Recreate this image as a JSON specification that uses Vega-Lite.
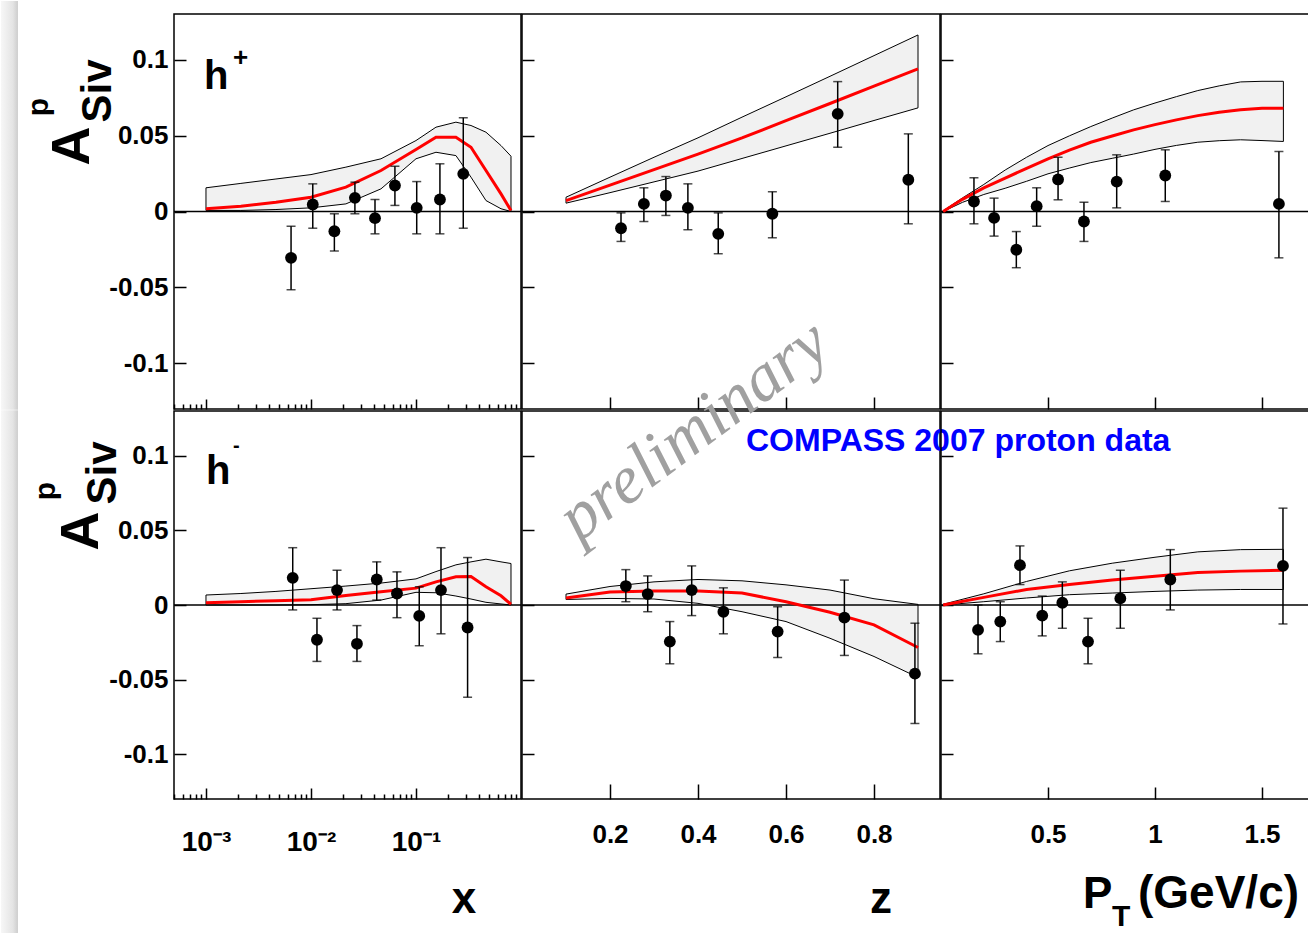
{
"$schema": "https://vega.github.io/schema/vega-lite/v6.json",
"padding": 0,
"autosize": {"type": "pad"},
"background": "white",
"columns": 3,
"spacing": {"row": 2, "column": 1},
"bounds": "flush",
"config": {
  "view": {"stroke": "black", "strokeWidth": 1.5},
  "axis": {"domain": false, "grid": false, "tickColor": "black", "tickWidth": 1.5, "labelColor": "black", "labelFont": "Liberation Sans", "labelFontWeight": "bold", "labelFontSize": 26, "labelFlush": false, "labelOverlap": false, "title": null},
  "text": {"font": "Liberation Sans", "fontWeight": "bold", "color": "black"}
},
"datasets": {
  "band_hp_x": [
    {"x":0.001,"lo":0.0007,"mid":0.0018,"hi":0.0156},
    {"x":0.00215,"lo":0.0007,"mid":0.0035,"hi":0.0185},
    {"x":0.00464,"lo":0.0013,"mid":0.0061,"hi":0.0214},
    {"x":0.01,"lo":0.0024,"mid":0.0094,"hi":0.0243},
    {"x":0.0215,"lo":0.005,"mid":0.016,"hi":0.0292},
    {"x":0.0464,"lo":0.0149,"mid":0.027,"hi":0.0347},
    {"x":0.1,"lo":0.0347,"mid":0.0408,"hi":0.0467},
    {"x":0.155,"lo":0.039,"mid":0.0489,"hi":0.0555},
    {"x":0.24,"lo":0.0368,"mid":0.0489,"hi":0.0588},
    {"x":0.334,"lo":0.0226,"mid":0.0423,"hi":0.0566},
    {"x":0.464,"lo":0.0072,"mid":0.027,"hi":0.0522},
    {"x":0.645,"lo":0.0018,"mid":0.0116,"hi":0.0434},
    {"x":0.803,"lo":0,"mid":0.0007,"hi":0.0364}
  ],
  "pts_hp_x": [
    {"x":0.00646,"y":-0.0305,"lo":-0.0515,"hi":-0.0097},
    {"x":0.0104,"y":0.0046,"lo":-0.011,"hi":0.0182},
    {"x":0.0167,"y":-0.013,"lo":-0.026,"hi":-0.0015},
    {"x":0.0262,"y":0.009,"lo":-0.0015,"hi":0.0193},
    {"x":0.0407,"y":-0.0044,"lo":-0.0147,"hi":0.0079},
    {"x":0.063,"y":0.0171,"lo":0.004,"hi":0.0298},
    {"x":0.1016,"y":0.0024,"lo":-0.0147,"hi":0.0197},
    {"x":0.169,"y":0.0079,"lo":-0.0147,"hi":0.0314},
    {"x":0.282,"y":0.0248,"lo":-0.011,"hi":0.0617}
  ],
  "band_hp_z": [
    {"x":0.1,"lo":0.0055,"mid":0.0072,"hi":0.0094},
    {"x":0.2,"lo":0.0124,"mid":0.0174,"hi":0.0226},
    {"x":0.3,"lo":0.0195,"mid":0.0276,"hi":0.0357},
    {"x":0.4,"lo":0.0266,"mid":0.0378,"hi":0.0485},
    {"x":0.5,"lo":0.0349,"mid":0.0484,"hi":0.0621},
    {"x":0.6,"lo":0.0432,"mid":0.0598,"hi":0.0755},
    {"x":0.7,"lo":0.0515,"mid":0.0711,"hi":0.089},
    {"x":0.8,"lo":0.0599,"mid":0.0825,"hi":0.1026},
    {"x":0.9,"lo":0.0682,"mid":0.0939,"hi":0.1162}
  ],
  "pts_hp_z": [
    {"x":0.225,"y":-0.011,"lo":-0.0197,"hi":-0.0009},
    {"x":0.277,"y":0.005,"lo":-0.0066,"hi":0.0156},
    {"x":0.327,"y":0.0105,"lo":-0.0026,"hi":0.023},
    {"x":0.377,"y":0.0024,"lo":-0.012,"hi":0.0182},
    {"x":0.446,"y":-0.0147,"lo":-0.0278,"hi":-0.0009},
    {"x":0.569,"y":-0.0015,"lo":-0.0173,"hi":0.013},
    {"x":0.7175,"y":0.0643,"lo":0.0423,"hi":0.0855},
    {"x":0.878,"y":0.0209,"lo":-0.0081,"hi":0.0511}
  ],
  "band_hp_pt": [
    {"x":0.01,"lo":0,"mid":0,"hi":0.0005},
    {"x":0.1,"lo":0.006,"mid":0.008,"hi":0.0089},
    {"x":0.2,"lo":0.0112,"mid":0.0155,"hi":0.0178},
    {"x":0.3,"lo":0.0153,"mid":0.022,"hi":0.0273},
    {"x":0.4,"lo":0.0199,"mid":0.0284,"hi":0.0357},
    {"x":0.5,"lo":0.0248,"mid":0.0347,"hi":0.0434},
    {"x":0.6,"lo":0.0286,"mid":0.0404,"hi":0.0498},
    {"x":0.7,"lo":0.0322,"mid":0.0456,"hi":0.0559},
    {"x":0.8,"lo":0.035,"mid":0.0497,"hi":0.0615},
    {"x":0.9,"lo":0.0378,"mid":0.0537,"hi":0.0669},
    {"x":1.0,"lo":0.0409,"mid":0.0572,"hi":0.0714},
    {"x":1.1,"lo":0.0435,"mid":0.0603,"hi":0.0756},
    {"x":1.2,"lo":0.0456,"mid":0.0631,"hi":0.0796},
    {"x":1.3,"lo":0.0466,"mid":0.0653,"hi":0.0827},
    {"x":1.4,"lo":0.0472,"mid":0.067,"hi":0.0853},
    {"x":1.5,"lo":0.0467,"mid":0.068,"hi":0.0857},
    {"x":1.6,"lo":0.0461,"mid":0.068,"hi":0.0857}
  ],
  "pts_hp_pt": [
    {"x":0.154,"y":0.0066,"lo":-0.0081,"hi":0.0222},
    {"x":0.248,"y":-0.0042,"lo":-0.0162,"hi":0.0088},
    {"x":0.352,"y":-0.0252,"lo":-0.037,"hi":-0.0132},
    {"x":0.447,"y":0.0035,"lo":-0.0097,"hi":0.0156},
    {"x":0.547,"y":0.0211,"lo":0.0077,"hi":0.0357},
    {"x":0.668,"y":-0.0066,"lo":-0.0197,"hi":0.0061},
    {"x":0.821,"y":0.0197,"lo":0.0024,"hi":0.0373},
    {"x":1.048,"y":0.0237,"lo":0.0066,"hi":0.0406},
    {"x":1.579,"y":0.005,"lo":-0.0305,"hi":0.0395}
  ],
  "band_hm_x": [
    {"x":0.001,"lo":0,"mid":0.0015,"hi":0.0067},
    {"x":0.00215,"lo":0,"mid":0.0022,"hi":0.0077},
    {"x":0.00464,"lo":0,"mid":0.0029,"hi":0.0091},
    {"x":0.01,"lo":0.0002,"mid":0.0035,"hi":0.0109},
    {"x":0.0215,"lo":0.0009,"mid":0.0064,"hi":0.0127},
    {"x":0.0464,"lo":0.0033,"mid":0.0089,"hi":0.0147},
    {"x":0.1,"lo":0.0085,"mid":0.0113,"hi":0.0175},
    {"x":0.155,"lo":0.0082,"mid":0.0155,"hi":0.0224},
    {"x":0.24,"lo":0.006,"mid":0.0189,"hi":0.0269},
    {"x":0.334,"lo":0.004,"mid":0.0191,"hi":0.0289},
    {"x":0.464,"lo":0.0018,"mid":0.0122,"hi":0.0307},
    {"x":0.645,"lo":0.0007,"mid":0.0062,"hi":0.0289},
    {"x":0.803,"lo":0,"mid":0.0005,"hi":0.0278}
  ],
  "pts_hm_x": [
    {"x":0.0067,"y":0.0182,"lo":-0.0033,"hi":0.0384},
    {"x":0.0114,"y":-0.0233,"lo":-0.0378,"hi":-0.0089},
    {"x":0.0177,"y":0.01,"lo":-0.0033,"hi":0.0233},
    {"x":0.0274,"y":-0.026,"lo":-0.0378,"hi":-0.0138},
    {"x":0.0423,"y":0.0171,"lo":0.0033,"hi":0.0289},
    {"x":0.0659,"y":0.0077,"lo":-0.0085,"hi":0.0222},
    {"x":0.1074,"y":-0.0073,"lo":-0.0273,"hi":0.0122},
    {"x":0.173,"y":0.01,"lo":-0.0193,"hi":0.0384},
    {"x":0.31,"y":-0.0151,"lo":-0.0618,"hi":0.0318}
  ],
  "band_hm_z": [
    {"x":0.1,"lo":0.0037,"mid":0.0047,"hi":0.0073},
    {"x":0.2,"lo":0.0044,"mid":0.0087,"hi":0.0124},
    {"x":0.3,"lo":0.004,"mid":0.0093,"hi":0.0155},
    {"x":0.4,"lo":0.0011,"mid":0.0093,"hi":0.0171},
    {"x":0.5,"lo":-0.0045,"mid":0.008,"hi":0.0162},
    {"x":0.6,"lo":-0.0111,"mid":0.0022,"hi":0.0135},
    {"x":0.7,"lo":-0.0223,"mid":-0.0049,"hi":0.01},
    {"x":0.8,"lo":-0.0345,"mid":-0.0133,"hi":0.0042},
    {"x":0.9,"lo":-0.0485,"mid":-0.0285,"hi":0.0004}
  ],
  "pts_hm_z": [
    {"x":0.236,"y":0.0127,"lo":0.0022,"hi":0.0237},
    {"x":0.2857,"y":0.0073,"lo":-0.0045,"hi":0.0195},
    {"x":0.336,"y":-0.0245,"lo":-0.0394,"hi":-0.0111},
    {"x":0.3857,"y":0.01,"lo":-0.0071,"hi":0.0262},
    {"x":0.4577,"y":-0.0045,"lo":-0.0193,"hi":0.0115},
    {"x":0.581,"y":-0.0178,"lo":-0.0351,"hi":-0.0011},
    {"x":0.7327,"y":-0.0085,"lo":-0.0338,"hi":0.0167},
    {"x":0.893,"y":-0.046,"lo":-0.0794,"hi":-0.0122}
  ],
  "band_hm_pt": [
    {"x":0.01,"lo":0,"mid":0,"hi":0.0005},
    {"x":0.2,"lo":0.0022,"mid":0.0051,"hi":0.0075},
    {"x":0.4,"lo":0.0047,"mid":0.0104,"hi":0.0158},
    {"x":0.6,"lo":0.0069,"mid":0.0137,"hi":0.0229},
    {"x":0.8,"lo":0.008,"mid":0.0167,"hi":0.028},
    {"x":1.0,"lo":0.0091,"mid":0.0193,"hi":0.032},
    {"x":1.2,"lo":0.01,"mid":0.0218,"hi":0.0356},
    {"x":1.4,"lo":0.0104,"mid":0.0227,"hi":0.0371},
    {"x":1.6,"lo":0.0104,"mid":0.0233,"hi":0.0373}
  ],
  "pts_hm_pt": [
    {"x":0.173,"y":-0.0167,"lo":-0.0327,"hi":0},
    {"x":0.277,"y":-0.0111,"lo":-0.0245,"hi":0.0022},
    {"x":0.369,"y":0.0267,"lo":0.0137,"hi":0.0396},
    {"x":0.473,"y":-0.0071,"lo":-0.0207,"hi":0.006},
    {"x":0.567,"y":0.0015,"lo":-0.0156,"hi":0.0155},
    {"x":0.687,"y":-0.0245,"lo":-0.0394,"hi":-0.0089},
    {"x":0.838,"y":0.0044,"lo":-0.0156,"hi":0.0233},
    {"x":1.0715,"y":0.0171,"lo":-0.0033,"hi":0.0371},
    {"x":1.598,"y":0.0262,"lo":-0.0127,"hi":0.0649}
  ]
},
"concat": [
  {"width": 347, "height": 395, "layer": [
    {"data": {"values": [{}]}, "mark": {"type": "rect", "fill": {"gradient": "linear", "x1": 0, "y1": 0, "x2": 1, "y2": 0, "stops": [{"offset": 0, "color": "#f7f7f7"}, {"offset": 0.7, "color": "#e4e4e4"}, {"offset": 1, "color": "#cdcdcd"}]}},
     "encoding": {"x": {"datum": 1.116e-5, "type": "quantitative", "scale": {"type": "log", "domain": [0.000496, 1], "nice": false}}, "x2": {"datum": 1.62e-5}, "y": {"datum": 0.13855, "type": "quantitative", "scale": {"domain": [-0.13, 0.13], "nice": false, "zero": false}}, "y2": {"datum": -0.1305}}},
    {"data": {"name": "band_hp_x"}, "mark": {"type": "area", "fill": "#f1f1f1", "stroke": "black", "strokeWidth": 1},
     "encoding": {
       "x": {"field": "x", "type": "quantitative", "title": null, "scale": {"type": "log", "domain": [0.000496, 1], "nice": false},
             "axis": {"values": [0.0005,0.0006,0.0007,0.0008,0.0009,0.001,0.002,0.003,0.004,0.005,0.006,0.007,0.008,0.009,0.01,0.02,0.03,0.04,0.05,0.06,0.07,0.08,0.09,0.1,0.2,0.3,0.4,0.5,0.6,0.7,0.8,0.9], "labels": false,
                      "tickSize": {"condition": {"test": "datum.value == 0.001 || datum.value == 0.01 || datum.value == 0.1", "value": -10}, "value": -5}}},
       "y": {"field": "lo", "type": "quantitative", "title": null, "scale": {"domain": [-0.13, 0.13], "nice": false, "zero": false},
             "axis": {"values": [-0.1, -0.05, 0, 0.05, 0.1], "tickSize": -12, "labelPadding": 18, "labelExpr": "'' + datum.value"}},
       "y2": {"field": "hi"}}},
    {"data": {"values": [{}]}, "mark": {"type": "rule", "color": "black", "strokeWidth": 1.5}, "encoding": {"y": {"datum": 0, "type": "quantitative", "scale": {"domain": [-0.13, 0.13], "nice": false, "zero": false}}}},
    {"data": {"name": "band_hp_x"}, "mark": {"type": "line", "color": "#ff0000", "strokeWidth": 3},
     "encoding": {"x": {"field": "x", "type": "quantitative", "title": null, "scale": {"type": "log", "domain": [0.000496, 1], "nice": false}}, "y": {"field": "mid", "type": "quantitative", "title": null, "scale": {"domain": [-0.13, 0.13], "nice": false, "zero": false}}}},
    {"data": {"name": "pts_hp_x"}, "mark": {"type": "errorbar", "ticks": true, "size": 9, "thickness": 1.5, "color": "black"},
     "encoding": {"x": {"field": "x", "type": "quantitative", "title": null, "scale": {"type": "log", "domain": [0.000496, 1], "nice": false}}, "y": {"field": "lo", "type": "quantitative", "title": null, "scale": {"domain": [-0.13, 0.13], "nice": false, "zero": false}}, "y2": {"field": "hi"}}},
    {"data": {"name": "pts_hp_x"}, "mark": {"type": "circle", "size": 140, "color": "black", "opacity": 1},
     "encoding": {"x": {"field": "x", "type": "quantitative", "title": null, "scale": {"type": "log", "domain": [0.000496, 1], "nice": false}}, "y": {"field": "y", "type": "quantitative", "title": null, "scale": {"domain": [-0.13, 0.13], "nice": false, "zero": false}}}},
    {"data": {"values": [{}]}, "mark": {"type": "text", "text": "h", "fontSize": 40, "align": "left", "baseline": "alphabetic"},
     "encoding": {"x": {"datum": 0.000957, "type": "quantitative", "scale": {"type": "log", "domain": [0.000496, 1], "nice": false}}, "y": {"datum": 0.0806, "type": "quantitative", "scale": {"domain": [-0.13, 0.13], "nice": false, "zero": false}}}},
    {"data": {"values": [{}]}, "mark": {"type": "text", "text": "+", "fontSize": 26, "align": "left", "baseline": "alphabetic"},
     "encoding": {"x": {"datum": 0.001807, "type": "quantitative", "scale": {"type": "log", "domain": [0.000496, 1], "nice": false}}, "y": {"datum": 0.0958, "type": "quantitative", "scale": {"domain": [-0.13, 0.13], "nice": false, "zero": false}}}},
    {"data": {"values": [{}]}, "mark": {"type": "text", "text": "A", "fontSize": 54, "angle": 270, "align": "center", "baseline": "alphabetic"},
     "encoding": {"x": {"datum": 7.69e-5, "type": "quantitative", "scale": {"type": "log", "domain": [0.000496, 1], "nice": false}}, "y": {"datum": 0.0431, "type": "quantitative", "scale": {"domain": [-0.13, 0.13], "nice": false, "zero": false}}}},
    {"data": {"values": [{}]}, "mark": {"type": "text", "text": "p", "fontSize": 30, "angle": 270, "align": "center", "baseline": "alphabetic"},
     "encoding": {"x": {"datum": 3.13e-5, "type": "quantitative", "scale": {"type": "log", "domain": [0.000496, 1], "nice": false}}, "y": {"datum": 0.0688, "type": "quantitative", "scale": {"domain": [-0.13, 0.13], "nice": false, "zero": false}}}},
    {"data": {"values": [{}]}, "mark": {"type": "text", "text": "Siv", "fontSize": 42, "angle": 270, "align": "center", "baseline": "alphabetic"},
     "encoding": {"x": {"datum": 1.246e-4, "type": "quantitative", "scale": {"type": "log", "domain": [0.000496, 1], "nice": false}}, "y": {"datum": 0.0793, "type": "quantitative", "scale": {"domain": [-0.13, 0.13], "nice": false, "zero": false}}}}
  ]},
  {"width": 418, "height": 395, "layer": [
    {"data": {"name": "band_hp_z"}, "mark": {"type": "area", "fill": "#f1f1f1", "stroke": "black", "strokeWidth": 1},
     "encoding": {
       "x": {"field": "x", "type": "quantitative", "title": null, "scale": {"domain": [0, 0.95], "nice": false, "zero": false},
             "axis": {"values": [0.2, 0.4, 0.6, 0.8], "labels": false, "tickSize": -12}},
       "y": {"field": "lo", "type": "quantitative", "title": null, "scale": {"domain": [-0.13, 0.13], "nice": false, "zero": false},
             "axis": {"values": [-0.1, -0.05, 0, 0.05, 0.1], "tickSize": -12, "labels": false}},
       "y2": {"field": "hi"}}},
    {"data": {"values": [{}]}, "mark": {"type": "rule", "color": "black", "strokeWidth": 1.5}, "encoding": {"y": {"datum": 0, "type": "quantitative", "scale": {"domain": [-0.13, 0.13], "nice": false, "zero": false}}}},
    {"data": {"name": "band_hp_z"}, "mark": {"type": "line", "color": "#ff0000", "strokeWidth": 3},
     "encoding": {"x": {"field": "x", "type": "quantitative", "title": null, "scale": {"domain": [0, 0.95], "nice": false, "zero": false}}, "y": {"field": "mid", "type": "quantitative", "title": null, "scale": {"domain": [-0.13, 0.13], "nice": false, "zero": false}}}},
    {"data": {"name": "pts_hp_z"}, "mark": {"type": "errorbar", "ticks": true, "size": 9, "thickness": 1.5, "color": "black"},
     "encoding": {"x": {"field": "x", "type": "quantitative", "title": null, "scale": {"domain": [0, 0.95], "nice": false, "zero": false}}, "y": {"field": "lo", "type": "quantitative", "title": null, "scale": {"domain": [-0.13, 0.13], "nice": false, "zero": false}}, "y2": {"field": "hi"}}},
    {"data": {"name": "pts_hp_z"}, "mark": {"type": "circle", "size": 140, "color": "black", "opacity": 1},
     "encoding": {"x": {"field": "x", "type": "quantitative", "title": null, "scale": {"domain": [0, 0.95], "nice": false, "zero": false}}, "y": {"field": "y", "type": "quantitative", "title": null, "scale": {"domain": [-0.13, 0.13], "nice": false, "zero": false}}}}
  ]},
  {"width": 368, "height": 395, "layer": [
    {"data": {"name": "band_hp_pt"}, "mark": {"type": "area", "fill": "#f1f1f1", "stroke": "black", "strokeWidth": 1},
     "encoding": {
       "x": {"field": "x", "type": "quantitative", "title": null, "scale": {"domain": [0, 1.7196], "nice": false, "zero": false},
             "axis": {"values": [0.5, 1, 1.5], "labels": false, "tickSize": -12}},
       "y": {"field": "lo", "type": "quantitative", "title": null, "scale": {"domain": [-0.13, 0.13], "nice": false, "zero": false},
             "axis": {"values": [-0.1, -0.05, 0, 0.05, 0.1], "tickSize": -12, "labels": false}},
       "y2": {"field": "hi"}}},
    {"data": {"values": [{}]}, "mark": {"type": "rule", "color": "black", "strokeWidth": 1.5}, "encoding": {"y": {"datum": 0, "type": "quantitative", "scale": {"domain": [-0.13, 0.13], "nice": false, "zero": false}}}},
    {"data": {"name": "band_hp_pt"}, "mark": {"type": "line", "color": "#ff0000", "strokeWidth": 3},
     "encoding": {"x": {"field": "x", "type": "quantitative", "title": null, "scale": {"domain": [0, 1.7196], "nice": false, "zero": false}}, "y": {"field": "mid", "type": "quantitative", "title": null, "scale": {"domain": [-0.13, 0.13], "nice": false, "zero": false}}}},
    {"data": {"name": "pts_hp_pt"}, "mark": {"type": "errorbar", "ticks": true, "size": 9, "thickness": 1.5, "color": "black"},
     "encoding": {"x": {"field": "x", "type": "quantitative", "title": null, "scale": {"domain": [0, 1.7196], "nice": false, "zero": false}}, "y": {"field": "lo", "type": "quantitative", "title": null, "scale": {"domain": [-0.13, 0.13], "nice": false, "zero": false}}, "y2": {"field": "hi"}}},
    {"data": {"name": "pts_hp_pt"}, "mark": {"type": "circle", "size": 140, "color": "black", "opacity": 1},
     "encoding": {"x": {"field": "x", "type": "quantitative", "title": null, "scale": {"domain": [0, 1.7196], "nice": false, "zero": false}}, "y": {"field": "y", "type": "quantitative", "title": null, "scale": {"domain": [-0.13, 0.13], "nice": false, "zero": false}}}}
  ]},
  {"width": 347, "height": 388, "layer": [
    {"data": {"values": [{}]}, "mark": {"type": "rect", "fill": {"gradient": "linear", "x1": 0, "y1": 0, "x2": 1, "y2": 0, "stops": [{"offset": 0, "color": "#f7f7f7"}, {"offset": 0.7, "color": "#e4e4e4"}, {"offset": 1, "color": "#cdcdcd"}]}},
     "encoding": {"x": {"datum": 1.116e-5, "type": "quantitative", "scale": {"type": "log", "domain": [0.000496, 1], "nice": false}}, "x2": {"datum": 1.62e-5}, "y": {"datum": 0.1305, "type": "quantitative", "scale": {"domain": [-0.13, 0.13], "nice": false, "zero": false}}, "y2": {"datum": -0.2205}}},
    {"data": {"name": "band_hm_x"}, "mark": {"type": "area", "fill": "#f1f1f1", "stroke": "black", "strokeWidth": 1},
     "encoding": {
       "x": {"field": "x", "type": "quantitative", "title": null, "scale": {"type": "log", "domain": [0.000496, 1], "nice": false},
             "axis": {"values": [0.0005,0.0006,0.0007,0.0008,0.0009,0.001,0.002,0.003,0.004,0.005,0.006,0.007,0.008,0.009,0.01,0.02,0.03,0.04,0.05,0.06,0.07,0.08,0.09,0.1,0.2,0.3,0.4,0.5,0.6,0.7,0.8,0.9],
                      "tickSize": {"condition": {"test": "datum.value == 0.001 || datum.value == 0.01 || datum.value == 0.1", "value": -11}, "value": -5},
                      "labelExpr": "datum.value == 0.001 ? '10⁻³' : datum.value == 0.01 ? '10⁻²' : datum.value == 0.1 ? '10⁻¹' : ''", "labelFontSize": 28, "labelPadding": 40}},
       "y": {"field": "lo", "type": "quantitative", "title": null, "scale": {"domain": [-0.13, 0.13], "nice": false, "zero": false},
             "axis": {"values": [-0.1, -0.05, 0, 0.05, 0.1], "tickSize": -12, "labelPadding": 18, "labelExpr": "'' + datum.value"}},
       "y2": {"field": "hi"}}},
    {"data": {"values": [{}]}, "mark": {"type": "rule", "color": "black", "strokeWidth": 1.5}, "encoding": {"y": {"datum": 0, "type": "quantitative", "scale": {"domain": [-0.13, 0.13], "nice": false, "zero": false}}}},
    {"data": {"name": "band_hm_x"}, "mark": {"type": "line", "color": "#ff0000", "strokeWidth": 3},
     "encoding": {"x": {"field": "x", "type": "quantitative", "title": null, "scale": {"type": "log", "domain": [0.000496, 1], "nice": false}}, "y": {"field": "mid", "type": "quantitative", "title": null, "scale": {"domain": [-0.13, 0.13], "nice": false, "zero": false}}}},
    {"data": {"name": "pts_hm_x"}, "mark": {"type": "errorbar", "ticks": true, "size": 9, "thickness": 1.5, "color": "black"},
     "encoding": {"x": {"field": "x", "type": "quantitative", "title": null, "scale": {"type": "log", "domain": [0.000496, 1], "nice": false}}, "y": {"field": "lo", "type": "quantitative", "title": null, "scale": {"domain": [-0.13, 0.13], "nice": false, "zero": false}}, "y2": {"field": "hi"}}},
    {"data": {"name": "pts_hm_x"}, "mark": {"type": "circle", "size": 140, "color": "black", "opacity": 1},
     "encoding": {"x": {"field": "x", "type": "quantitative", "title": null, "scale": {"type": "log", "domain": [0.000496, 1], "nice": false}}, "y": {"field": "y", "type": "quantitative", "title": null, "scale": {"domain": [-0.13, 0.13], "nice": false, "zero": false}}}},
    {"data": {"values": [{}]}, "mark": {"type": "text", "text": "h", "fontSize": 40, "align": "left", "baseline": "alphabetic"},
     "encoding": {"x": {"datum": 0.001, "type": "quantitative", "scale": {"type": "log", "domain": [0.000496, 1], "nice": false}}, "y": {"datum": 0.0811, "type": "quantitative", "scale": {"domain": [-0.13, 0.13], "nice": false, "zero": false}}}},
    {"data": {"values": [{}]}, "mark": {"type": "text", "text": "-", "fontSize": 20, "align": "left", "baseline": "alphabetic"},
     "encoding": {"x": {"datum": 0.001807, "type": "quantitative", "scale": {"type": "log", "domain": [0.000496, 1], "nice": false}}, "y": {"datum": 0.1025, "type": "quantitative", "scale": {"domain": [-0.13, 0.13], "nice": false, "zero": false}}}},
    {"data": {"values": [{}]}, "mark": {"type": "text", "text": "A", "fontSize": 54, "angle": 270, "align": "center", "baseline": "alphabetic"},
     "encoding": {"x": {"datum": 9.37e-5, "type": "quantitative", "scale": {"type": "log", "domain": [0.000496, 1], "nice": false}}, "y": {"datum": 0.0496, "type": "quantitative", "scale": {"domain": [-0.13, 0.13], "nice": false, "zero": false}}}},
    {"data": {"values": [{}]}, "mark": {"type": "text", "text": "p", "fontSize": 30, "angle": 270, "align": "center", "baseline": "alphabetic"},
     "encoding": {"x": {"datum": 3.62e-5, "type": "quantitative", "scale": {"type": "log", "domain": [0.000496, 1], "nice": false}}, "y": {"datum": 0.0764, "type": "quantitative", "scale": {"domain": [-0.13, 0.13], "nice": false, "zero": false}}}},
    {"data": {"values": [{}]}, "mark": {"type": "text", "text": "Siv", "fontSize": 42, "angle": 270, "align": "center", "baseline": "alphabetic"},
     "encoding": {"x": {"datum": 1.39e-4, "type": "quantitative", "scale": {"type": "log", "domain": [0.000496, 1], "nice": false}}, "y": {"datum": 0.0885, "type": "quantitative", "scale": {"domain": [-0.13, 0.13], "nice": false, "zero": false}}}},
    {"data": {"values": [{}]}, "mark": {"type": "text", "text": "x", "fontSize": 44, "align": "center", "baseline": "alphabetic"},
     "encoding": {"x": {"datum": 0.2867, "type": "quantitative", "scale": {"type": "log", "domain": [0.000496, 1], "nice": false}}, "y": {"datum": -0.2064, "type": "quantitative", "scale": {"domain": [-0.13, 0.13], "nice": false, "zero": false}}}}
  ]},
  {"width": 418, "height": 388, "layer": [
    {"data": {"name": "band_hm_z"}, "mark": {"type": "area", "fill": "#f1f1f1", "stroke": "black", "strokeWidth": 1},
     "encoding": {
       "x": {"field": "x", "type": "quantitative", "title": null, "scale": {"domain": [0, 0.95], "nice": false, "zero": false},
             "axis": {"values": [0.2, 0.4, 0.6, 0.8], "tickSize": -15, "labelPadding": 37, "labelExpr": "'' + datum.value"}},
       "y": {"field": "lo", "type": "quantitative", "title": null, "scale": {"domain": [-0.13, 0.13], "nice": false, "zero": false},
             "axis": {"values": [-0.1, -0.05, 0, 0.05, 0.1], "tickSize": -12, "labels": false}},
       "y2": {"field": "hi"}}},
    {"data": {"values": [{}]}, "mark": {"type": "rule", "color": "black", "strokeWidth": 1.5}, "encoding": {"y": {"datum": 0, "type": "quantitative", "scale": {"domain": [-0.13, 0.13], "nice": false, "zero": false}}}},
    {"data": {"name": "band_hm_z"}, "mark": {"type": "line", "color": "#ff0000", "strokeWidth": 3},
     "encoding": {"x": {"field": "x", "type": "quantitative", "title": null, "scale": {"domain": [0, 0.95], "nice": false, "zero": false}}, "y": {"field": "mid", "type": "quantitative", "title": null, "scale": {"domain": [-0.13, 0.13], "nice": false, "zero": false}}}},
    {"data": {"name": "pts_hm_z"}, "mark": {"type": "errorbar", "ticks": true, "size": 9, "thickness": 1.5, "color": "black"},
     "encoding": {"x": {"field": "x", "type": "quantitative", "title": null, "scale": {"domain": [0, 0.95], "nice": false, "zero": false}}, "y": {"field": "lo", "type": "quantitative", "title": null, "scale": {"domain": [-0.13, 0.13], "nice": false, "zero": false}}, "y2": {"field": "hi"}}},
    {"data": {"name": "pts_hm_z"}, "mark": {"type": "circle", "size": 140, "color": "black", "opacity": 1},
     "encoding": {"x": {"field": "x", "type": "quantitative", "title": null, "scale": {"domain": [0, 0.95], "nice": false, "zero": false}}, "y": {"field": "y", "type": "quantitative", "title": null, "scale": {"domain": [-0.13, 0.13], "nice": false, "zero": false}}}},
    {"data": {"values": [{}]}, "mark": {"type": "text", "text": "preliminary", "font": "Liberation Serif", "fontStyle": "italic", "fontWeight": "normal", "fontSize": 68, "angle": 323, "align": "center", "baseline": "middle", "color": "#a0a0a0"},
     "encoding": {"x": {"datum": 0.391, "type": "quantitative", "scale": {"domain": [0, 0.95], "nice": false, "zero": false}}, "y": {"datum": 0.1166, "type": "quantitative", "scale": {"domain": [-0.13, 0.13], "nice": false, "zero": false}}}},
    {"data": {"values": [{}]}, "mark": {"type": "text", "text": "COMPASS 2007 proton data", "fontSize": 32, "align": "left", "baseline": "alphabetic", "color": "#0000ff"},
     "encoding": {"x": {"datum": 0.5091, "type": "quantitative", "scale": {"domain": [0, 0.95], "nice": false, "zero": false}}, "y": {"datum": 0.1032, "type": "quantitative", "scale": {"domain": [-0.13, 0.13], "nice": false, "zero": false}}}},
    {"data": {"values": [{}]}, "mark": {"type": "text", "text": "z", "fontSize": 44, "align": "center", "baseline": "alphabetic"},
     "encoding": {"x": {"datum": 0.8159, "type": "quantitative", "scale": {"domain": [0, 0.95], "nice": false, "zero": false}}, "y": {"datum": -0.2064, "type": "quantitative", "scale": {"domain": [-0.13, 0.13], "nice": false, "zero": false}}}}
  ]},
  {"width": 368, "height": 388, "layer": [
    {"data": {"name": "band_hm_pt"}, "mark": {"type": "area", "fill": "#f1f1f1", "stroke": "black", "strokeWidth": 1},
     "encoding": {
       "x": {"field": "x", "type": "quantitative", "title": null, "scale": {"domain": [0, 1.7196], "nice": false, "zero": false},
             "axis": {"values": [0.5, 1, 1.5], "tickSize": -12, "labelPadding": 34, "labelExpr": "'' + datum.value"}},
       "y": {"field": "lo", "type": "quantitative", "title": null, "scale": {"domain": [-0.13, 0.13], "nice": false, "zero": false},
             "axis": {"values": [-0.1, -0.05, 0, 0.05, 0.1], "tickSize": -12, "labels": false}},
       "y2": {"field": "hi"}}},
    {"data": {"values": [{}]}, "mark": {"type": "rule", "color": "black", "strokeWidth": 1.5}, "encoding": {"y": {"datum": 0, "type": "quantitative", "scale": {"domain": [-0.13, 0.13], "nice": false, "zero": false}}}},
    {"data": {"name": "band_hm_pt"}, "mark": {"type": "line", "color": "#ff0000", "strokeWidth": 3},
     "encoding": {"x": {"field": "x", "type": "quantitative", "title": null, "scale": {"domain": [0, 1.7196], "nice": false, "zero": false}}, "y": {"field": "mid", "type": "quantitative", "title": null, "scale": {"domain": [-0.13, 0.13], "nice": false, "zero": false}}}},
    {"data": {"name": "pts_hm_pt"}, "mark": {"type": "errorbar", "ticks": true, "size": 9, "thickness": 1.5, "color": "black"},
     "encoding": {"x": {"field": "x", "type": "quantitative", "title": null, "scale": {"domain": [0, 1.7196], "nice": false, "zero": false}}, "y": {"field": "lo", "type": "quantitative", "title": null, "scale": {"domain": [-0.13, 0.13], "nice": false, "zero": false}}, "y2": {"field": "hi"}}},
    {"data": {"name": "pts_hm_pt"}, "mark": {"type": "circle", "size": 140, "color": "black", "opacity": 1},
     "encoding": {"x": {"field": "x", "type": "quantitative", "title": null, "scale": {"domain": [0, 1.7196], "nice": false, "zero": false}}, "y": {"field": "y", "type": "quantitative", "title": null, "scale": {"domain": [-0.13, 0.13], "nice": false, "zero": false}}}},
    {"data": {"values": [{}]}, "mark": {"type": "text", "text": "P", "fontSize": 44, "align": "left", "baseline": "alphabetic"},
     "encoding": {"x": {"datum": 0.6636, "type": "quantitative", "scale": {"domain": [0, 1.7196], "nice": false, "zero": false}}, "y": {"datum": -0.203, "type": "quantitative", "scale": {"domain": [-0.13, 0.13], "nice": false, "zero": false}}}},
    {"data": {"values": [{}]}, "mark": {"type": "text", "text": "T", "fontSize": 30, "align": "left", "baseline": "alphabetic"},
     "encoding": {"x": {"datum": 0.799, "type": "quantitative", "scale": {"domain": [0, 1.7196], "nice": false, "zero": false}}, "y": {"datum": -0.2151, "type": "quantitative", "scale": {"domain": [-0.13, 0.13], "nice": false, "zero": false}}}},
    {"data": {"values": [{}]}, "mark": {"type": "text", "text": "(GeV/c)", "fontSize": 46, "align": "left", "baseline": "alphabetic"},
     "encoding": {"x": {"datum": 0.9206, "type": "quantitative", "scale": {"domain": [0, 1.7196], "nice": false, "zero": false}}, "y": {"datum": -0.203, "type": "quantitative", "scale": {"domain": [-0.13, 0.13], "nice": false, "zero": false}}}}
  ]}
]
}
